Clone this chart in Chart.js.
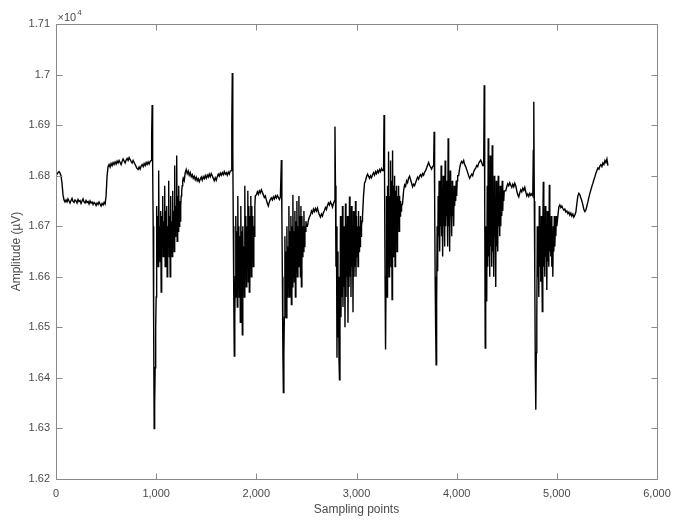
<!DOCTYPE html>
<html>
<head>
<meta charset="utf-8">
<script src="https://cdn.jsdelivr.net/npm/chart.js@4.4.1/dist/chart.umd.min.js"></script>
<style>
  html, body { margin: 0; padding: 0; background: #fff; }
  #wrap { width: 682px; height: 520px; }
</style>
</head>
<body>
<div id="wrap"><canvas id="sigChart"></canvas></div>
<script>
// amplitude in µV; quiet stretches read every 10 samples, bursts every 5
var restA = [16800, 16803, 16806, 16808, 16805, 16800, 16785, 16762, 16752, 16748,
  16752, 16748, 16754, 16750, 16746, 16751, 16755, 16749, 16747, 16752,
  16750, 16746, 16753, 16749, 16751, 16745, 16750, 16754, 16748, 16746,
  16751, 16747, 16749, 16744, 16750, 16746, 16748, 16743, 16747, 16745,
  16741, 16746, 16743, 16748, 16744, 16740, 16745, 16742, 16747, 16744,
  16760, 16800, 16818, 16822, 16817, 16824, 16820, 16826, 16822, 16827,
  16823, 16829, 16825, 16830, 16826, 16822, 16828, 16833, 16829, 16825,
  16831, 16834, 16830, 16836, 16832, 16828, 16825, 16830, 16826, 16822,
  16818, 16814, 16812, 16817, 16813, 16819, 16822, 16818, 16824, 16820,
  16826, 16822, 16827, 16823, 16828];
var burst1 = [16830, 16880, 16940, 16820, 16700, 16500, 16300, 16350, 16420, 16500, 16560,
  16740, 16650, 16720, 16620, 16810, 16660, 16700, 16630, 16730, 16570,
  16720, 16660, 16760, 16640, 16710, 16650, 16780, 16620, 16730, 16670,
  16740, 16600, 16700, 16660, 16790, 16640, 16720, 16600, 16760, 16650,
  16710, 16640, 16770, 16660, 16730, 16650, 16820, 16680, 16740, 16690,
  16840, 16670, 16760, 16690, 16780, 16700, 16750, 16710,
  16740, 16760, 16770, 16780, 16790, 16795];
var restB = [16790, 16806, 16812, 16804, 16809, 16801, 16806, 16798, 16802, 16795,
  16799, 16792, 16797, 16790, 16794, 16788, 16793, 16797, 16791, 16798,
  16794, 16800, 16795, 16801, 16797, 16803, 16798, 16804, 16800, 16795,
  16790, 16796, 16791, 16798, 16803, 16799, 16805, 16801, 16806, 16802,
  16808, 16803, 16806, 16801, 16807, 16803, 16809];
var burst2 = [16810, 16900, 17003, 16850, 16700, 16550, 16443, 16520, 16600,
  16720, 16560, 16690, 16540, 16760, 16600, 16700, 16560, 16680, 16510,
  16740, 16590, 16690, 16485, 16700, 16580, 16660, 16560, 16780, 16600,
  16720, 16580, 16700, 16620, 16770, 16590, 16740, 16570, 16720, 16620,
  16760, 16600, 16740, 16640, 16720, 16620, 16700, 16680, 16740, 16760];
var restC = [16762, 16768, 16763, 16770, 16766, 16772, 16767, 16762, 16757, 16760,
  16752, 16745, 16740, 16748, 16753, 16756, 16752, 16758, 16754, 16760,
  16756, 16761, 16757, 16753, 16758];
var burst3 = [16831, 16720, 16600, 16450, 16371, 16450, 16520,
  16680, 16540, 16650, 16519, 16700, 16560, 16660, 16580, 16740, 16560,
  16690, 16600, 16720, 16545, 16700, 16580, 16762, 16600, 16690, 16590,
  16730, 16560, 16710, 16610, 16750, 16600, 16700, 16620, 16760, 16630,
  16720, 16600, 16740, 16580, 16720, 16640, 16700, 16650, 16730, 16660,
  16700, 16690, 16710, 16700];
var restD = [16700, 16712, 16718, 16722, 16730, 16726, 16734, 16729, 16735, 16730,
  16736, 16728, 16722, 16718, 16724, 16720, 16727, 16731, 16737, 16733,
  16741, 16746, 16742, 16748, 16744, 16738, 16745];
var burst4 = [16750, 16897, 16780, 16620, 16700, 16440, 16650, 16480, 16600, 16440, 16396, 16500,
  16720, 16520, 16680, 16560, 16740, 16540, 16700, 16580, 16690, 16500,
  16745, 16560, 16700, 16600, 16720, 16509, 16690, 16580, 16759, 16600,
  16710, 16560, 16740, 16620, 16700, 16530, 16730, 16600, 16700, 16620,
  16750, 16600, 16720, 16640, 16700, 16620, 16730, 16650, 16700, 16660,
  16720, 16680, 16700, 16710, 16720];
var restE = [16760, 16785, 16790, 16798, 16803, 16799, 16795, 16800, 16796, 16802,
  16806, 16801, 16808, 16804, 16810, 16806, 16812, 16808, 16814, 16810];
var burst5 = [16810, 16920, 16800, 16600, 16456, 16600, 16760,
  16560, 16780, 16620, 16848, 16600, 16760, 16640, 16830, 16620, 16790,
  16555, 16850, 16640, 16780, 16660, 16800, 16620, 16770, 16680, 16780,
  16650, 16760, 16700, 16780, 16690, 16760, 16720, 16750, 16730, 16740];
var restF = [16745, 16770, 16782, 16779, 16790, 16786, 16795, 16799, 16792, 16785,
  16778, 16783, 16780, 16786, 16792, 16797, 16793, 16799, 16802, 16798,
  16804, 16801, 16807, 16810, 16815, 16821, 16826, 16820, 16817, 16813, 16818];
var burst6 = [16820, 16887, 16760, 16600, 16500, 16426, 16550,
  16700, 16611, 16760, 16680, 16790, 16650, 16740, 16700, 16820, 16680,
  16760, 16640, 16800, 16700, 16770, 16660, 16830, 16700, 16790, 16720,
  16760, 16660, 16874, 16700, 16780, 16650, 16810, 16720, 16760, 16680,
  16790, 16720, 16770, 16700, 16780, 16740, 16770, 16750, 16790, 16760,
  16790, 16800];
var restG = [16800, 16815, 16824, 16828, 16825, 16830, 16822, 16818, 16812, 16806,
  16800, 16795, 16799, 16803, 16800, 16808, 16812, 16815, 16820, 16818,
  16825, 16828, 16831, 16826, 16820];
var burst7 = [16820, 16979, 16750, 16459, 16600,
  16700, 16551, 16780, 16620, 16874, 16640, 16760, 16600, 16840, 16660,
  16740, 16620, 16860, 16650, 16760, 16600, 16800, 16680, 16740, 16580,
  16790, 16660, 16760, 16650, 16800, 16700, 16760, 16680, 16780, 16700,
  16760, 16720, 16790, 16730, 16770, 16750, 16770, 16770];
var restH = [16770, 16778, 16784, 16780, 16786, 16781, 16777, 16783, 16778, 16785,
  16780, 16770, 16762, 16758, 16766, 16772, 16768, 16775, 16771, 16777,
  16768, 16760, 16764, 16759, 16765, 16761, 16764];
var burst8 = [16760, 16850, 16946, 16750, 16600, 16420, 16337, 16450, 16520,
  16700, 16600, 16680, 16560, 16740, 16620, 16700, 16590, 16720, 16640,
  16531, 16700, 16788, 16620, 16690, 16600, 16740, 16640, 16700, 16574,
  16730, 16630, 16700, 16620, 16782, 16650, 16700, 16640, 16720, 16620,
  16690, 16600, 16700, 16650, 16720, 16660, 16700, 16680, 16720, 16700];
var restI = [16720, 16738, 16742, 16737, 16740, 16735, 16732, 16734, 16728, 16730,
  16725, 16728, 16722, 16726, 16720, 16724, 16718, 16722, 16728, 16745,
  16760, 16765, 16762, 16756, 16750, 16742, 16733, 16729, 16732, 16740,
  16748, 16757, 16765, 16772, 16779, 16785, 16792, 16798, 16805, 16810,
  16815, 16813, 16819, 16822, 16818, 16825, 16822, 16830, 16826, 16833, 16820];

var segmentStart = [0, 950, 1280, 1750, 2000, 2250, 2510, 2780, 3070, 3270,
  3460, 3770, 4020, 4270, 4490, 4760, 5010];
var segmentStep = [10, 5, 10, 5, 10, 5, 10, 5, 10, 5, 10, 5, 10, 5, 10, 5, 10];
var segmentValues = [restA, burst1, restB, burst2, restC, burst3, restD, burst4, restE, burst5,
  restF, burst6, restG, burst7, restH, burst8, restI];

var xTickValues = [0, 1000, 2000, 3000, 4000, 5000, 6000];
var yTickValues = [16200, 16300, 16400, 16500, 16600, 16700, 16800, 16900, 17000, 17100];

var points = [];
segmentValues.forEach(function (vals, s) {
  vals.forEach(function (v, k) {
    points.push({ x: segmentStart[s] + k * segmentStep[s], y: v });
  });
});

var axisColor = '#8a8a8a';
var textColor = '#4a4a4a';
var fontFamily = '"Liberation Sans", Arial, Helvetica, sans-serif';

// MATLAB-like box with inward ticks and the x10^4 exponent
var boxPlugin = {
  id: 'box',
  afterDraw: function (chart) {
    var ctx = chart.ctx, a = chart.chartArea;
    var xs = chart.scales.x, ys = chart.scales.y;
    var L = Math.round(a.left) + 0.5, R = Math.round(a.right) + 0.5;
    var T = Math.round(a.top) + 0.5, B = Math.round(a.bottom) + 0.5;
    ctx.save();
    ctx.strokeStyle = axisColor;
    ctx.lineWidth = 1;
    ctx.strokeRect(L, T, R - L, B - T);
    ctx.beginPath();
    xTickValues.forEach(function (v) {
      var px = Math.round(xs.getPixelForValue(v)) + 0.5;
      ctx.moveTo(px, B); ctx.lineTo(px, B - 6);
      ctx.moveTo(px, T); ctx.lineTo(px, T + 6);
    });
    yTickValues.forEach(function (v) {
      var py = Math.round(ys.getPixelForValue(v)) + 0.5;
      ctx.moveTo(L, py); ctx.lineTo(L + 6, py);
      ctx.moveTo(R, py); ctx.lineTo(R - 6, py);
    });
    ctx.stroke();
    ctx.fillStyle = textColor;
    ctx.textBaseline = 'alphabetic';
    ctx.textAlign = 'left';
    ctx.font = '11px ' + fontFamily;
    ctx.fillText('\u00d710', L + 1, T - 4);
    var w = ctx.measureText('\u00d710').width;
    ctx.font = '8px ' + fontFamily;
    ctx.fillText('4', L + 1 + w + 1, T - 10);
    ctx.restore();
  }
};

new Chart('sigChart', {
  type: 'line',
  data: {
    datasets: [{
      data: points,
      borderColor: '#000000',
      borderWidth: 1.4,
      pointRadius: 0,
      tension: 0,
      fill: false
    }]
  },
  options: {
    responsive: true,
    maintainAspectRatio: false,
    animation: false,
    layout: { padding: { left: 0, right: 25, top: 24, bottom: 0 } },
    plugins: { legend: { display: false }, tooltip: { enabled: false } },
    scales: {
      x: {
        type: 'linear',
        min: 0, max: 6000,
        afterBuildTicks: function (s) { s.ticks = xTickValues.map(function (v) { return { value: v }; }); },
        afterFit: function (s) { s.height = 41; },
        grid: { display: false, drawTicks: false },
        border: { display: false },
        ticks: {
          padding: 8,
          color: textColor,
          font: { family: fontFamily, size: 11 },
          maxRotation: 0,
          callback: function (v) { return v.toLocaleString('en-US'); }
        },
        title: {
          display: true, text: 'Sampling points', color: textColor,
          font: { family: fontFamily, size: 12 }, padding: { top: 0, bottom: 3 }
        }
      },
      y: {
        min: 16200, max: 17100,
        afterBuildTicks: function (s) { s.ticks = yTickValues.map(function (v) { return { value: v }; }); },
        afterFit: function (s) { s.width = 56; },
        grid: { display: false, drawTicks: false },
        border: { display: false },
        ticks: {
          padding: 6,
          color: textColor,
          font: { family: fontFamily, size: 11 },
          callback: function (v) { return String(parseFloat((v / 1e4).toFixed(2))); }
        },
        title: {
          display: true, text: 'Amplitude (\u00b5V)', color: textColor,
          font: { family: fontFamily, size: 12 }, padding: { top: 9, bottom: 0 }
        }
      }
    }
  },
  plugins: [boxPlugin]
});
</script>
</body>
</html>
